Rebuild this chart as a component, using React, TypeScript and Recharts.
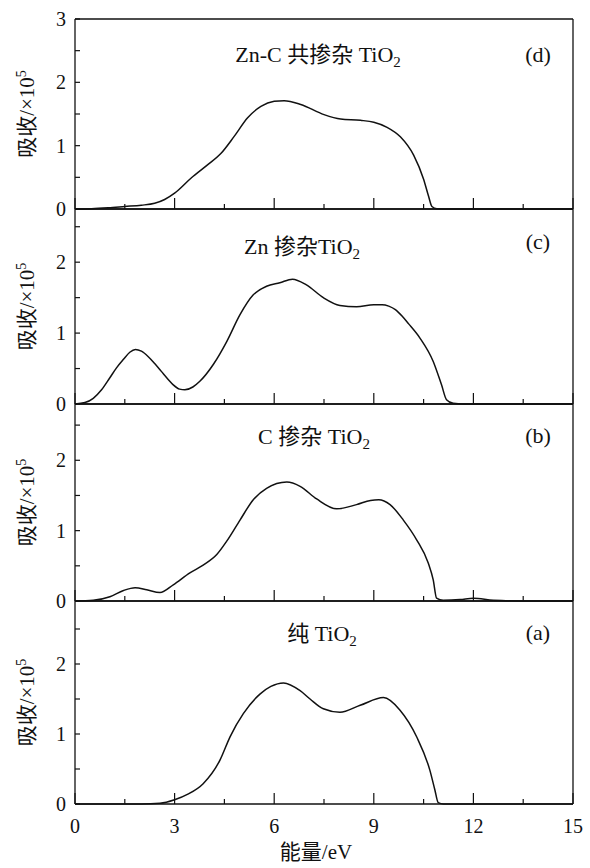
import React from "react";
import { LineChart, Line, XAxis, YAxis } from "recharts";

// energy (eV) and absorption (x10^5)
const dEnergy = [0, 0.5, 1.0, 1.5, 2.0, 2.4, 2.7, 3.0, 3.5, 4.0, 4.4, 4.8, 5.2, 5.6, 6.0, 6.3, 6.8, 7.5, 8.0, 8.6, 9.0, 9.4, 9.8, 10.2, 10.5, 10.65, 10.75, 10.9, 11.2, 12, 13, 14, 15];
const dAbs = [0, 0.005, 0.02, 0.04, 0.06, 0.09, 0.15, 0.25, 0.49, 0.7, 0.88, 1.15, 1.44, 1.62, 1.7, 1.71, 1.65, 1.49, 1.42, 1.4, 1.37, 1.29, 1.14, 0.85, 0.47, 0.2, 0.04, 0.005, 0, 0, 0, 0, 0];

const cEnergy = [0, 0.3, 0.55, 0.8, 1.05, 1.25, 1.46, 1.65, 1.82, 2.0, 2.2, 2.4, 2.6, 2.8, 2.96, 3.15, 3.31, 3.55, 3.76, 4.17, 4.57, 4.97, 5.37, 5.77, 6.17, 6.55, 6.97, 7.48, 7.98, 8.48, 9.0, 9.25, 9.45, 9.65, 9.85, 10.05, 10.39, 10.79, 11.04, 11.19, 11.39, 11.7, 13, 15];
const cAbs = [0, 0.02, 0.08, 0.2, 0.37, 0.51, 0.63, 0.73, 0.77, 0.745, 0.67, 0.57, 0.46, 0.35, 0.27, 0.21, 0.2, 0.24, 0.32, 0.56, 0.88, 1.26, 1.54, 1.66, 1.71, 1.76, 1.68, 1.5, 1.39, 1.37, 1.4, 1.4, 1.38, 1.33, 1.24, 1.13, 0.93, 0.6, 0.27, 0.06, 0.01, 0, 0, 0];

const bEnergy = [0, 0.55, 1.05, 1.46, 1.81, 2.16, 2.56, 2.96, 3.46, 3.86, 4.27, 4.57, 4.97, 5.37, 5.77, 6.38, 6.78, 7.28, 7.88, 8.48, 8.9, 9.15, 9.49, 9.89, 10.29, 10.64, 10.79, 10.89, 11.09, 11.6, 12.0, 12.6, 13.4, 15];
const bAbs = [0, 0.01, 0.06, 0.15, 0.19, 0.16, 0.12, 0.23, 0.4, 0.51, 0.66, 0.85, 1.15, 1.44, 1.6, 1.69, 1.63, 1.45, 1.31, 1.37, 1.43, 1.44, 1.37, 1.15, 0.87, 0.54, 0.3, 0.04, 0.01, 0.02, 0.04, 0.01, 0, 0];

const aEnergy = [0, 1, 2.0, 2.56, 3.0, 3.4, 3.86, 4.37, 4.67, 5.07, 5.57, 5.9, 6.28, 6.78, 7.08, 7.48, 7.98, 8.59, 9.29, 9.79, 10.29, 10.69, 10.84, 10.94, 11.1, 13, 15];
const aAbs = [0, 0, 0, 0.01, 0.06, 0.14, 0.29, 0.63, 0.96, 1.29, 1.57, 1.68, 1.73, 1.62, 1.5, 1.36, 1.31, 1.41, 1.52, 1.34, 0.96, 0.48, 0.2, 0.02, 0, 0, 0];

const xTicks = [0, 1.5, 3, 4.5, 6, 7.5, 9, 10.5, 12, 13.5, 15];
const titles = ["Zn-C 共掺杂 TiO", "Zn 掺杂TiO", "C 掺杂 TiO", "纯 TiO"];
const tags = ["(d)", "(c)", "(b)", "(a)"];
const yLabel = "吸收/×10";
const xLabel = "能量/eV";

const INK = "#111";
const FONT = "'Liberation Serif', 'Noto Sans CJK SC', serif";
const RIGHT = 573;
const PAD = 12;

const toRows = (e: number[], v: number[]) => e.map((x, i) => ({ e: x, v: v[i] }));

const panels = [
  { rows: toRows(dEnergy, dAbs), top: 19, bottom: 209, yMax: 3, titleX: 318, titleY: 62, tagY: 62 },
  { rows: toRows(cEnergy, cAbs), top: 209, bottom: 404, yMax: 2.75, titleX: 302, titleY: 254, tagY: 249 },
  { rows: toRows(bEnergy, bAbs), top: 404, bottom: 601, yMax: 2.8, titleX: 314, titleY: 444, tagY: 443 },
  { rows: toRows(aEnergy, aAbs), top: 601, bottom: 804, yMax: 2.9, titleX: 322, titleY: 641, tagY: 640 },
];

const halfSteps = (max: number) => {
  const out: number[] = [];
  for (let v = 0; v <= max + 1e-9; v += 0.5) out.push(v);
  return out;
};

const bottomTick = (labels: boolean) => (p: any) => {
  const v = p.payload.value;
  const major = Math.abs(v % 3) < 1e-9;
  return (
    <g>
      <line x1={p.x} x2={p.x} y1={p.y} y2={p.y - (major ? 11 : 5)} stroke={INK} strokeWidth={1.2} />
      {labels && major && (
        <text x={p.x} y={p.y + 29} textAnchor="middle" fontSize={20} fontFamily={FONT} fill={INK}>
          {v}
        </text>
      )}
    </g>
  );
};

const leftTick = (p: any) => {
  const v = p.payload.value;
  return (
    <g>
      <line x1={p.x} x2={p.x + 5} y1={p.y} y2={p.y} stroke={INK} strokeWidth={1.2} />
      {Number.isInteger(v) && (
        <text x={p.x - 9} y={p.y + 7} textAnchor="end" fontSize={20} fontFamily={FONT} fill={INK}>
          {v}
        </text>
      )}
    </g>
  );
};

const rightTick = (p: any) => (
  <line x1={p.x} x2={p.x - 3} y1={p.y} y2={p.y} stroke={INK} strokeWidth={1} />
);

const frame = { stroke: INK, strokeWidth: 1.3 };

function Panel({ idx }: { idx: number }) {
  const p = panels[idx];
  const last = idx === panels.length - 1;
  const h = p.bottom - p.top;
  const bottomPad = last ? 64 : PAD;
  const yt = halfSteps(p.yMax);
  return (
    <div style={{ position: "absolute", left: 0, top: p.top - PAD }}>
      <LineChart
        width={590}
        height={h + PAD + bottomPad}
        data={p.rows}
        margin={{ top: PAD - 1, bottom: bottomPad - 1, left: 35, right: 590 - RIGHT - 1 }}
      >
        <XAxis
          xAxisId="b"
          dataKey="e"
          type="number"
          domain={[0, 15]}
          ticks={xTicks}
          interval={0}
          height={1}
          tickSize={0}
          tickMargin={0}
          tickLine={false}
          tick={bottomTick(last)}
          axisLine={frame}
        />
        <XAxis
          xAxisId="t"
          orientation="top"
          type="number"
          domain={[0, 15]}
          height={1}
          tick={false}
          tickLine={false}
          axisLine={frame}
        />
        <YAxis
          yAxisId="l"
          type="number"
          domain={[0, p.yMax]}
          ticks={yt}
          interval={0}
          width={40}
          tickSize={0}
          tickMargin={0}
          tickLine={false}
          tick={leftTick}
          axisLine={frame}
        />
        <YAxis
          yAxisId="r"
          orientation="right"
          type="number"
          domain={[0, p.yMax]}
          ticks={yt}
          interval={0}
          width={1}
          tickSize={0}
          tickMargin={0}
          tickLine={false}
          tick={rightTick}
          axisLine={frame}
        />
        <Line
          xAxisId="b"
          yAxisId="l"
          dataKey="v"
          type="monotone"
          stroke={INK}
          strokeWidth={1.5}
          dot={false}
          isAnimationActive={false}
        />
      </LineChart>
    </div>
  );
}

export default function App() {
  return (
    <div style={{ position: "absolute", left: 0, top: 0, width: 590, height: 868, background: "#fff" }}>
      {panels.map((_, i) => (
        <Panel key={i} idx={i} />
      ))}
      <svg width={590} height={868} style={{ position: "absolute", left: 0, top: 0, pointerEvents: "none" }}>
        {panels.map((p, i) => (
          <g key={i} fontFamily={FONT} fill={INK}>
            <text x={p.titleX} y={p.titleY} textAnchor="middle" fontSize={22}>
              <tspan>{titles[i]}</tspan>
              <tspan dy={5} fontSize={15}>2</tspan>
            </text>
            <text x={538} y={p.tagY} textAnchor="middle" fontSize={22}>
              {tags[i]}
            </text>
            <text
              transform={`translate(34, ${(p.top + p.bottom) / 2}) rotate(-90)`}
              textAnchor="middle"
              fontSize={21}
            >
              <tspan>{yLabel}</tspan>
              <tspan dy={-8} fontSize={14}>5</tspan>
            </text>
          </g>
        ))}
        <text x={316} y={859} textAnchor="middle" fontSize={21} fontFamily={FONT} fill={INK}>
          {xLabel}
        </text>
      </svg>
    </div>
  );
}
